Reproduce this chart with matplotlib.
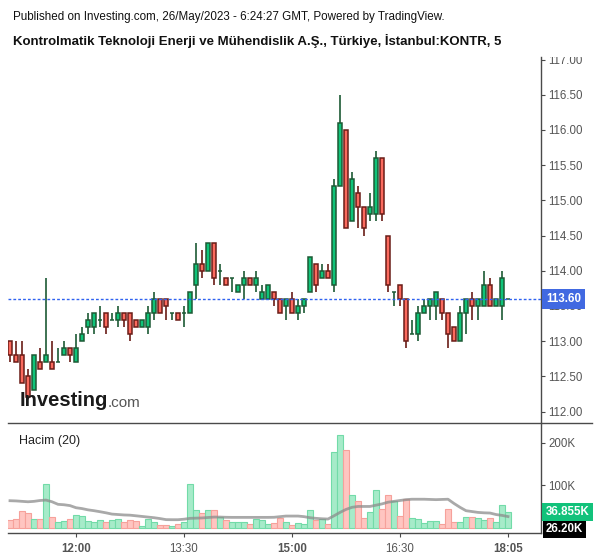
import matplotlib
matplotlib.use('Agg')
import matplotlib.pyplot as plt
from matplotlib.transforms import Bbox, TransformedBbox
import numpy as np

plt.rcParams['font.family'] = ['Liberation Sans', 'DejaVu Sans']

# ═══════════ 数据 (5 分钟 K 线, 11:05 → 18:05) ═══════════
opens = [113.0, 112.8, 112.8, 112.5, 112.3, 112.7, 112.7, 112.7, 112.7, 112.8,
         112.9, 112.7, 113.0, 113.2, 113.2, 113.3, 113.4, 113.3, 113.3, 113.4,
         113.4, 113.3, 113.2, 113.2, 113.4, 113.6, 113.6, 113.4, 113.4, 113.4,
         113.4, 113.8, 114.1, 114.0, 114.4, 114.0, 113.9, 113.9, 113.7, 113.8,
         113.9, 113.8, 113.6, 113.6, 113.7, 113.6, 113.5, 113.6, 113.4, 113.5,
         113.7, 114.1, 113.9, 114.0, 113.8, 115.2, 116.0, 114.7, 115.1, 114.9,
         114.8, 114.8, 115.6, 114.5, 113.7, 113.8, 113.6, 113.1, 113.1, 113.4,
         113.5, 113.5, 113.6, 113.4, 113.2, 113.0, 113.4, 113.6, 113.5, 113.5,
         113.8, 113.5, 113.5, 113.6]
highs = [113.0, 113.0, 113.0, 112.6, 112.8, 112.9, 113.9, 113.0, 112.9, 113.0,
         112.9, 113.1, 113.2, 113.4, 113.4, 113.5, 113.4, 113.4, 113.5, 113.4,
         113.4, 113.3, 113.3, 113.5, 113.7, 113.6, 113.6, 113.4, 113.4, 113.5,
         113.7, 114.4, 114.3, 114.4, 114.4, 114.1, 113.9, 113.9, 113.8, 114.0,
         113.9, 114.0, 113.8, 113.8, 113.7, 113.6, 113.6, 113.7, 113.6, 113.6,
         114.2, 114.1, 114.1, 114.1, 115.3, 116.5, 116.0, 115.4, 115.2, 114.9,
         115.1, 115.7, 115.6, 114.5, 113.7, 113.8, 113.6, 113.3, 113.5, 113.6,
         113.6, 113.7, 113.6, 113.4, 113.2, 113.5, 113.6, 113.7, 113.6, 114.0,
         113.9, 113.6, 114.0, 113.6]
lows = [112.7, 112.7, 112.4, 112.2, 112.3, 112.6, 112.7, 112.6, 112.7, 112.8,
        112.7, 112.7, 113.0, 113.1, 113.1, 113.2, 113.1, 113.3, 113.2, 113.2,
        113.0, 113.2, 113.2, 113.1, 113.3, 113.4, 113.3, 113.3, 113.3, 113.2,
        113.4, 113.6, 113.9, 114.0, 113.8, 113.8, 113.8, 113.7, 113.7, 113.6,
        113.8, 113.7, 113.6, 113.6, 113.5, 113.4, 113.3, 113.4, 113.3, 113.4,
        113.7, 113.7, 113.9, 113.9, 113.7, 115.2, 114.6, 114.7, 114.6, 114.5,
        114.7, 114.7, 114.7, 113.7, 113.5, 113.5, 112.9, 113.1, 113.0, 113.4,
        113.3, 113.3, 113.3, 112.9, 113.0, 113.0, 113.1, 113.3, 113.3, 113.5,
        113.5, 113.5, 113.3, 113.6]
closes = [112.8, 112.7, 112.4, 112.2, 112.8, 112.6, 112.8, 112.6, 112.7, 112.9,
          112.8, 112.9, 113.1, 113.3, 113.4, 113.3, 113.2, 113.3, 113.4, 113.3,
          113.1, 113.2, 113.3, 113.4, 113.6, 113.4, 113.5, 113.4, 113.3, 113.4,
          113.7, 114.1, 114.0, 114.4, 113.9, 114.0, 113.8, 113.9, 113.8, 113.9,
          113.8, 113.9, 113.7, 113.8, 113.6, 113.4, 113.6, 113.4, 113.5, 113.6,
          114.2, 113.8, 114.0, 113.9, 115.2, 116.1, 114.6, 115.3, 114.9, 114.6,
          114.9, 115.6, 114.8, 113.8, 113.7, 113.6, 113.0, 113.1, 113.4, 113.5,
          113.6, 113.7, 113.4, 113.1, 113.0, 113.4, 113.6, 113.5, 113.6, 113.8,
          113.5, 113.6, 113.9, 113.6]
# 成交量 (千)
volumes = [18.8, 20.4, 39.0, 33.7, 20.4, 20.4, 102.0, 24.3, 12.5, 14.9,
           19.6, 29.0, 26.7, 15.7, 13.3, 18.0, 12.5, 18.0, 20.4, 13.3,
           18.0, 16.5, 3.1, 20.4, 13.3, 6.3, 6.3, 3.9, 8.6, 13.3,
           102.0, 41.6, 34.5, 41.6, 41.6, 25.0, 18.0, 12.5, 12.5, 12.5,
           8.6, 20.4, 18.8, 7.8, 11.0, 22.0, 12.5, 6.3, 11.0, 9.4,
           41.6, 18.0, 20.4, 7.8, 177.0, 218.0, 183.0, 78.0, 62.7, 22.7,
           36.0, 87.8, 44.0, 76.0, 64.0, 27.4, 66.6, 22.7, 19.6, 11.0,
           15.7, 15.7, 7.8, 44.0, 13.3, 13.3, 25.0, 25.0, 22.0, 18.0,
           22.7, 12.5, 53.0, 36.855]
# 成交量 20 期均线 (千), 读自图中
vol_ma = [63.5, 63.0, 62.0, 61.0, 62.0, 64.0, 65.0, 61.0, 55.0, 54.0,
          52.0, 47.0, 45.0, 42.0, 40.0, 37.6, 35.0, 32.0, 31.0, 30.0,
          29.5, 28.0, 26.5, 25.0, 23.5, 21.5, 19.0, 18.8, 18.8, 20.0,
          22.0, 22.5, 23.0, 24.0, 25.0, 25.0, 24.5, 24.3, 24.3, 24.3,
          24.3, 24.3, 24.3, 24.3, 24.5, 26.0, 27.4, 27.4, 27.4, 26.0,
          23.5, 22.0, 21.0, 20.4, 28.0, 36.0, 43.0, 48.0, 50.0, 50.0,
          50.0, 53.0, 56.0, 60.0, 62.0, 64.0, 66.0, 67.0, 67.0, 67.0,
          66.5, 66.0, 66.5, 67.0, 57.0, 48.0, 40.0, 38.0, 36.0, 35.0,
          34.5, 31.0, 29.0, 26.2]
tick_pos = [11, 29, 47, 65, 83]
tick_labels = ['12:00', '13:30', '15:00', '16:30', '18:05']
tick_bold = [True, False, True, False, True]
last_price = 113.60

# ═══════════ 颜色 ═══════════
UP = '#0fc479'
UP_EDGE = '#1d5a35'
DOWN = '#fb6a5e'
DOWN_EDGE = '#6a1c17'
VUP = '#a6ebc9'
VUP_EDGE = '#72dba8'
VDOWN = '#ffc5c1'
VDOWN_EDGE = '#f6a19b'
AXIS = '#4a4a4a'
LABEL = '#555555'

W, H = 600, 558
fig = plt.figure(figsize=(W / 100, H / 100), dpi=100)
fig.set_facecolor('white')

def fx(px):
    return px / W

def fy(py):
    return 1 - py / H

left, right = 8, 541
ax = fig.add_axes([fx(left), fy(423), fx(right - left), fy(57) - fy(423)])
axv = fig.add_axes([fx(left), fy(533), fx(right - left), fy(423) - fy(533)])

x = np.arange(len(opens))
o = np.array(opens)
c = np.array(closes)
up = c >= o

# K 线
ax.vlines(x, lows, highs, colors=np.where(up, UP_EDGE, DOWN_EDGE), linewidth=1.2, zorder=2)
ax.bar(x, c - o, bottom=o, width=0.78,
       color=np.where(up, UP, DOWN), edgecolor=np.where(up, UP_EDGE, DOWN_EDGE),
       linewidth=1.1, zorder=3)
ax.axhline(last_price, color='#2f62f0', linewidth=1.0, linestyle=(0, (2, 1.5)), zorder=4)

x0 = (left - 10) / 6
x1 = (right - 10) / 6
ax.set_xlim(x0, x1)
ax.set_ylim(114 - (423 - 270.7) / 70.4, 114 + (270.7 - 57) / 70.4)
ax.yaxis.tick_right()
yt = np.arange(112.0, 117.01, 0.5)
ax.set_yticks(yt)
ax.set_yticklabels([f'{v:.2f}' for v in yt])
ax.tick_params(axis='y', colors=AXIS, labelcolor=LABEL, labelsize=8.3, length=3, width=0.8, pad=2.5)
ax.set_xticks([])
for s in ['top', 'left', 'bottom']:
    ax.spines[s].set_visible(False)
ax.spines['right'].set_color(AXIS)
ax.spines['right'].set_linewidth(1.0)

# 顶部 117.00 被截断
clip = TransformedBbox(Bbox([[fx(530), 0], [1, fy(57)]]), fig.transFigure)
ax.get_yticklabels()[-1].set_clip_box(clip)
ax.get_yticklabels()[-1].set_clip_on(True)

# 当前价格标签
ax.annotate(f'{last_price:.2f}', xy=(1.0, last_price), xycoords=ax.get_yaxis_transform(),
            xytext=(3.8, 0), textcoords='offset points',
            ha='left', va='center', color='white', fontsize=8.3, fontweight='bold',
            bbox=dict(boxstyle='square,pad=0.35', facecolor='#4169e1', edgecolor='none'),
            annotation_clip=False, zorder=10)

# 成交量
axv.bar(x, volumes, width=1.0, color=np.where(up, VUP, VDOWN),
        edgecolor=np.where(up, VUP_EDGE, VDOWN_EDGE), linewidth=0.8, zorder=2)
axv.plot(x, vol_ma, color='#8c8c8c', alpha=0.75, linewidth=2.0, zorder=3)
axv.set_xlim(x0, x1)
axv.set_ylim(-5.3 / 42.5 * 100, (527.7 - 423) / 42.5 * 100)
axv.yaxis.tick_right()
axv.set_yticks([100, 200])
axv.set_yticklabels(['100K', '200K'])
axv.tick_params(axis='y', colors=AXIS, labelcolor=LABEL, labelsize=8.3, length=3, width=0.8, pad=2.5)
axv.set_xticks(tick_pos)
axv.set_xticklabels(tick_labels)
axv.tick_params(axis='x', colors=AXIS, labelcolor=LABEL, labelsize=8.3, length=3, width=0.8, pad=4)
for lab, b in zip(axv.get_xticklabels(), tick_bold):
    if b:
        lab.set_fontweight('bold')
axv.spines['top'].set_visible(False)
axv.spines['left'].set_visible(False)
for s in ['right', 'bottom']:
    axv.spines[s].set_color(AXIS)
    axv.spines[s].set_linewidth(1.0)

axv.annotate(f'{volumes[-1]:.3f}K', xy=(1.0, volumes[-1]), xycoords=axv.get_yaxis_transform(),
             xytext=(3.5, 0), textcoords='offset points',
             ha='left', va='center', color='white', fontsize=8.3, fontweight='bold',
             bbox=dict(boxstyle='square,pad=0.3', facecolor='#12c27b', edgecolor='none'),
             annotation_clip=False, zorder=10)
axv.annotate(f'{vol_ma[-1]:.2f}K', xy=(1.0, -4), xycoords=axv.get_yaxis_transform(),
             xytext=(3.5, 0), textcoords='offset points',
             ha='left', va='center', color='white', fontsize=8.3, fontweight='bold',
             bbox=dict(boxstyle='square,pad=0.25', facecolor='black', edgecolor='none'),
             annotation_clip=False, zorder=9)
axv.text(0.02, 0.84, 'Hacim (20)', transform=axv.transAxes, ha='left', va='center',
         fontsize=9, color='#222222')

# 分隔线
fig.add_artist(plt.Line2D([fx(left), fx(592)], [fy(423), fy(423)], color=AXIS, linewidth=1.0))

# 标题
fig.text(fx(13), fy(17), 'Published on Investing.com, 26/May/2023 - 6:24:27 GMT, Powered by TradingView.',
         ha='left', va='center', fontsize=8.4, color='#111111')
fig.text(fx(13), fy(41), 'Kontrolmatik Teknoloji Enerji ve Mühendislik A.Ş., Türkiye, İstanbul:KONTR, 5',
         ha='left', va='center', fontsize=9.5, fontweight='bold', color='#111111')

# Investing 标志
fig.text(fx(20), fy(401), 'Investing', ha='left', va='center', fontsize=14.5,
         fontweight='bold', color='#1a1a1a')
fig.text(fx(108), fy(403), '.com', ha='left', va='center', fontsize=11, color='#555555')

fig.savefig('out.png', dpi=100, facecolor='white')
